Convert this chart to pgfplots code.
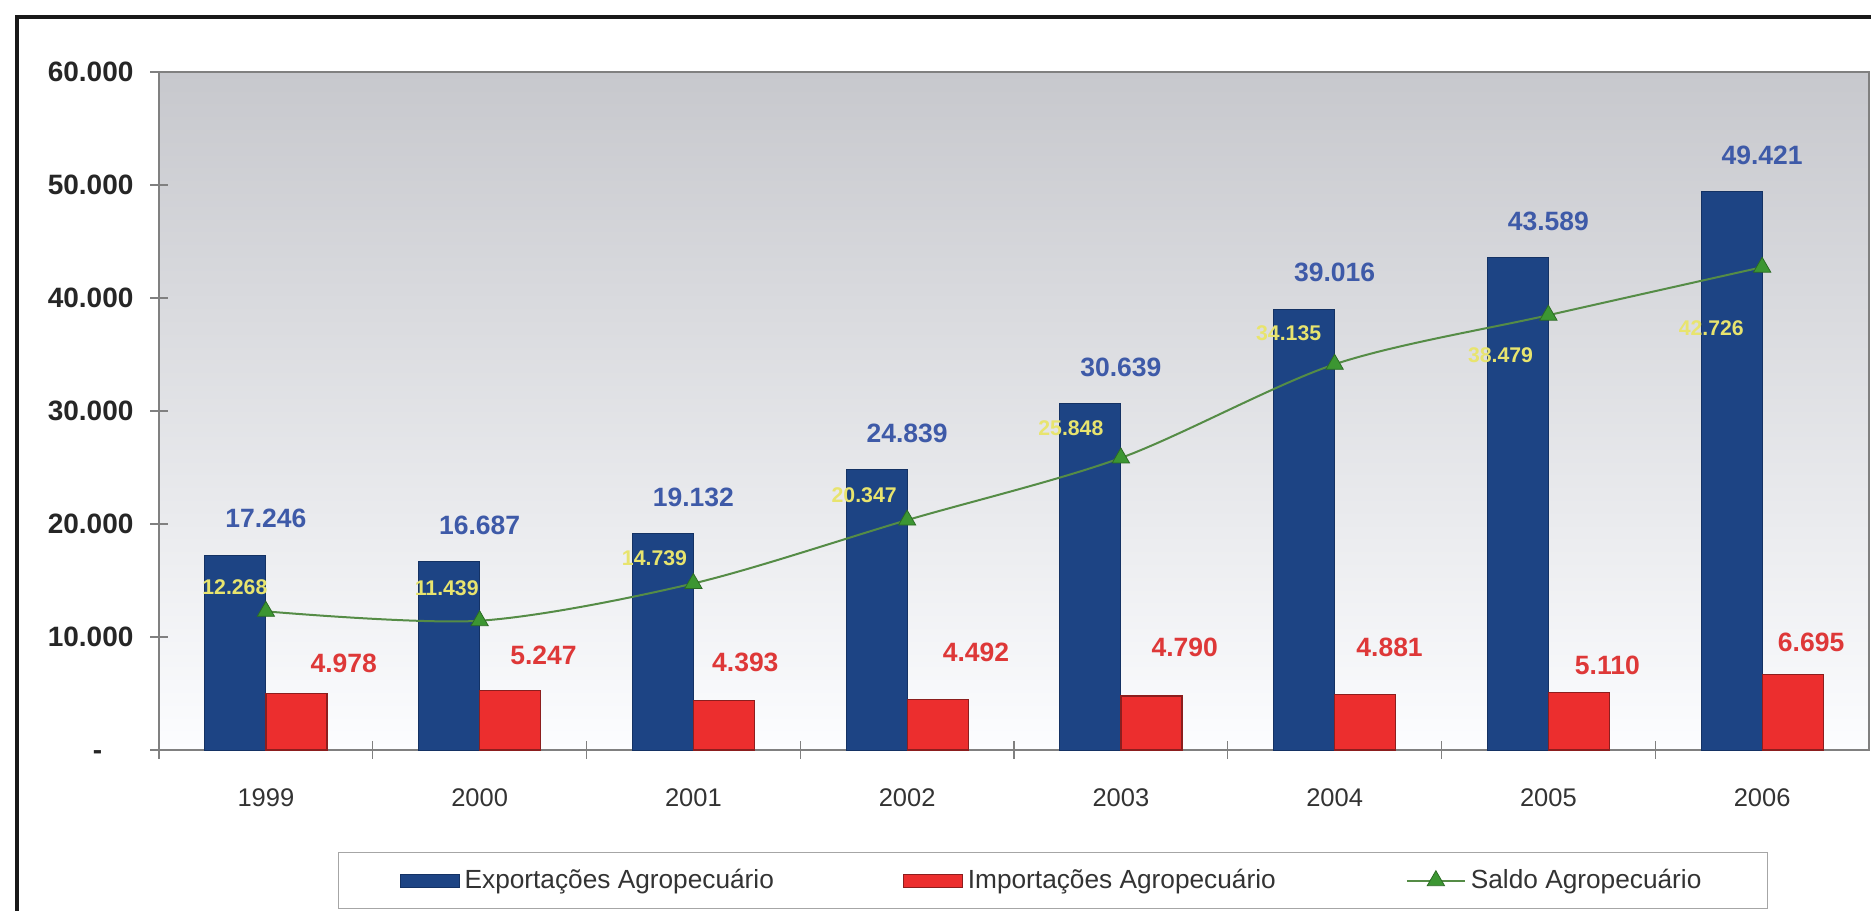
\documentclass[border=0pt]{standalone}
\usepackage{fontspec}
\setmainfont{Liberation Sans}
\usepackage{pgfplots}
\usepackage{pgfplotstable}
\pgfplotsset{compat=1.18}

\definecolor{expblue}{RGB}{29,68,132}
\definecolor{expedge}{RGB}{20,50,100}
\definecolor{impred}{RGB}{236,46,46}
\definecolor{impedge}{RGB}{140,30,30}
\definecolor{explab}{RGB}{62,90,168}
\definecolor{implab}{RGB}{222,56,56}
\definecolor{saldolab}{RGB}{232,228,110}
\definecolor{saldoline}{RGB}{85,140,70}
\definecolor{saldomark}{RGB}{60,150,50}
\definecolor{bgtop}{RGB}{199,200,205}
\definecolor{bgbot}{RGB}{252,253,255}
\definecolor{axisgray}{RGB}{128,128,128}

\pgfplotsset{
  barleg/.style={legend image code/.code={\draw[##1] (0pt,-2.6pt) rectangle (23.6pt,2.6pt);}},
  lineleg/.style={legend image code/.code={\draw[mark repeat=2, mark phase=2, ##1] plot coordinates {(0pt,0pt) (11.6pt,0pt) (23.2pt,0pt)};}},
}

\pgfplotstableread{
x exp imp saldo explab
0 17246 4978 12268 17.246
1 16687 5247 11439 16.687
2 19132 4393 14739 19.132
3 24839 4492 20347 24.839
4 30639 4790 25848 30.639
5 39016 4881 34135 39.016
6 43589 5110 38479 43.589
7 49421 6695 42726 49.421
}\datatable

\pgfplotstableread{
x y label
0.364 7699 4.978
1.299 8407 5.247
2.243 7788 4.393
3.322 8673 4.492
4.299 9115 4.790
5.257 9115 4.881
6.276 7522 5.110
7.229 9558 6.695
}\implabels

\pgfplotstableread{
x y label
-0.145 14425 12.268
0.846 14336 11.439
1.818 16991 14.739
2.799 22566 20.347
3.766 28496 25.848
4.785 36903 34.135
5.776 34956 38.479
6.762 37345 42.726
}\saldolabels

\begin{document}
\begin{tikzpicture}
\begin{axis}[
  scale only axis,
  width=684pt, height=271.2pt,
  xmin=-0.5, xmax=7.5,
  ymin=0, ymax=60000,
  scaled y ticks=false,
  axis background/.style={top color=bgtop, bottom color=bgbot},
  axis line style={axisgray, line width=0.6pt},
  xtick={0,...,7},
  xticklabels={1999,2000,2001,2002,2003,2004,2005,2006},
  minor xtick={-0.5,0.5,1.5,2.5,3.5,4.5,5.5,6.5},
  xtick pos=bottom, ytick pos=left,
  tick align=center,
  major tick length=7pt, minor tick length=7pt,
  major x tick style={draw=none},
  tick style={axisgray, line width=0.5pt},
  ytick={0,10000,20000,30000,40000,50000,60000},
  yticklabels={{-\phantom{00}},10.000,20.000,30.000,40.000,50.000,60.000},
  yticklabel style={font=\bfseries\fontsize{11.2}{13}\selectfont, text=black!85, xshift=-3.2pt},
  xticklabel style={font=\fontsize{10.2}{12}\selectfont, text=black!80, yshift=-8.4pt},
  legend columns=3,
  legend cell align=left,
  legend style={at={(axis description cs:0,0)}, anchor=north west,
    xshift=71.6pt, yshift=-40.8pt, draw=black!35, line width=0.5pt,
    inner xsep=24.4pt, inner ysep=4.6pt,
    font=\fontsize{10.5}{12}\selectfont, text=black!80,
    /tikz/every odd column/.append style={column sep=0pt},
    /tikz/every even column/.append style={column sep=0pt}},
]
\addplot[ybar, bar width=0.2855, bar shift=-0.14275, fill=expblue, draw=expedge, line width=0.4pt,
  barleg,
  nodes near coords, point meta=explicit symbolic,
  nodes near coords style={font=\bfseries\fontsize{10.6}{12}\selectfont, text=explab, anchor=south, inner sep=0pt, yshift=10.6pt}]
  table[x=x, y=exp, meta=explab] {\datatable};
\addlegendentry{\makebox[173.2pt][l]{Exportações Agropecuário}}

\addplot[ybar, bar width=0.2855, bar shift=0.14275, fill=impred, draw=impedge, line width=0.5pt,
  barleg]
  table[x=x, y=imp] {\datatable};
\addlegendentry{\makebox[173.2pt][l]{Importações Agropecuário}}

\addplot[saldoline, line width=0.8pt, smooth, tension=0.5,
  mark=triangle*, mark size=4pt,
  mark options={fill=saldomark, draw=saldomark!70!black, line width=0.3pt, solid},
  lineleg]
  table[x=x, y=saldo] {\datatable};
\addlegendentry{Saldo Agropecuário}

\addplot[forget plot, only marks, mark=*, mark size=0pt, mark options={draw=none, fill=none},
  nodes near coords, point meta=explicit symbolic,
  nodes near coords style={font=\bfseries\fontsize{10.6}{12}\selectfont, text=implab, anchor=center, inner sep=0pt}]
  table[x=x, y=y, meta=label] {\implabels};

\addplot[forget plot, only marks, mark=*, mark size=0pt, mark options={draw=none, fill=none},
  nodes near coords, point meta=explicit symbolic,
  nodes near coords style={font=\bfseries\fontsize{8.5}{10}\selectfont, text=saldolab, anchor=center, inner sep=0pt}]
  table[x=x, y=y, meta=label] {\saldolabels};

\coordinate (sw) at (rel axis cs:0,0);
\coordinate (ne) at (rel axis cs:1,1);
\end{axis}
\pgfresetboundingbox
\path[use as bounding box] ([xshift=-63.6pt,yshift=-64pt]sw) rectangle ([xshift=0.8pt,yshift=28.8pt]ne);
\draw[line width=1.5pt, black!90] ([xshift=-56.8pt,yshift=-120pt]sw) |- ([xshift=60pt,yshift=22pt]ne);
\end{tikzpicture}
\end{document}
